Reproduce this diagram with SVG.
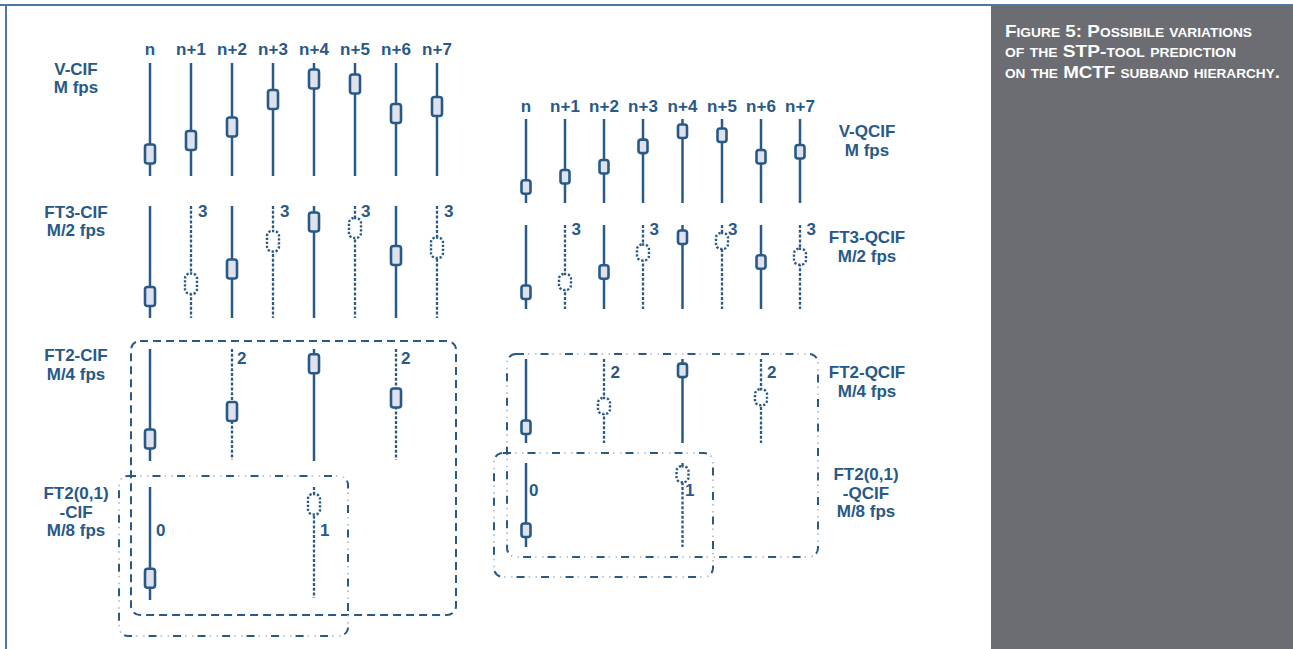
<svg xmlns="http://www.w3.org/2000/svg" width="1293" height="649" viewBox="0 0 1293 649">
<defs>
<style>
.ln{stroke:#285987;stroke-width:2.5;fill:none}
.dl{stroke:#285987;stroke-width:2.3;fill:none;stroke-dasharray:3 1.8}
.bx{fill:#dfe2ec;stroke:#285987;stroke-width:2.6}
.gh{fill:#fff;stroke:#285987;stroke-width:2.4;stroke-dasharray:2.2 1.8}
.t{font-family:"Liberation Sans",Arial,sans-serif;font-weight:bold;font-size:17px;fill:#285987}
.lb{text-anchor:middle}
.hd{text-anchor:middle;font-size:17px}
.nm{font-size:17px}
.dsh{fill:none;stroke:#285987;stroke-width:2;stroke-dasharray:8 5}
.dd1{fill:none;stroke:#285987;stroke-width:2;stroke-dasharray:8 16.5}
.dd2{fill:none;stroke:#a7b6c6;stroke-width:1.6;stroke-dasharray:1.5 5.5 1.5 16;stroke-dashoffset:12.5}
.cap{font-family:"Liberation Sans",Arial,sans-serif;font-weight:bold;font-size:16.5px;fill:#fff;font-variant:small-caps}
</style>
</defs>
<rect x="0" y="0" width="1293" height="649" fill="#fff"/>
<rect x="991" y="6" width="302" height="643" fill="#6c6d72"/>
<line x1="0" y1="5" x2="1293" y2="5" stroke="#4c78a3" stroke-width="2"/>
<line x1="6" y1="5" x2="6" y2="649" stroke="#4c78a3" stroke-width="2"/>
<g id="caption">
<text class="cap" x="1005" y="37" textLength="247" lengthAdjust="spacingAndGlyphs">Figure 5: Possibile variations</text>
<text class="cap" x="1005" y="57" textLength="231" lengthAdjust="spacingAndGlyphs">of the STP-tool prediction</text>
<text class="cap" x="1005" y="78" textLength="275" lengthAdjust="spacingAndGlyphs">on the MCTF subband hierarchy.</text>
</g>
<g id="connectors">
<rect class="dsh" x="131" y="341" width="325" height="274" rx="9"/>
<rect class="dd1" x="119" y="476" width="229" height="160" rx="9"/>
<rect class="dd2" x="119" y="476" width="229" height="160" rx="9"/>
<rect class="dd1" x="507" y="354" width="311" height="203" rx="9"/>
<rect class="dd2" x="507" y="354" width="311" height="203" rx="9"/>
<rect class="dd1" x="494" y="453" width="219" height="124" rx="9"/>
<rect class="dd2" x="494" y="453" width="219" height="124" rx="9"/>
</g>
<g id="headers-cif">
<text class="t hd" x="150" y="55">n</text>
<text class="t hd" x="191" y="55">n+1</text>
<text class="t hd" x="232" y="55">n+2</text>
<text class="t hd" x="273" y="55">n+3</text>
<text class="t hd" x="314" y="55">n+4</text>
<text class="t hd" x="355" y="55">n+5</text>
<text class="t hd" x="396" y="55">n+6</text>
<text class="t hd" x="437" y="55">n+7</text>
</g>
<g id="headers-qcif">
<text class="t hd" x="526" y="112">n</text>
<text class="t hd" x="565" y="112">n+1</text>
<text class="t hd" x="604" y="112">n+2</text>
<text class="t hd" x="643" y="112">n+3</text>
<text class="t hd" x="682.5" y="112">n+4</text>
<text class="t hd" x="722" y="112">n+5</text>
<text class="t hd" x="761" y="112">n+6</text>
<text class="t hd" x="800" y="112">n+7</text>
</g>
<g id="v-cif">
<text class="t lb" x="76" y="75">V-CIF</text>
<text class="t lb" x="76" y="93">M fps</text>
<line class="ln" x1="150" y1="63" x2="150" y2="176"/><rect class="bx" x="145" y="144.5" width="10" height="19" rx="2.5"/>
<line class="ln" x1="191" y1="63" x2="191" y2="176"/><rect class="bx" x="186" y="131" width="10" height="19" rx="2.5"/>
<line class="ln" x1="232" y1="63" x2="232" y2="176"/><rect class="bx" x="227" y="117.5" width="10" height="19" rx="2.5"/>
<line class="ln" x1="273" y1="63" x2="273" y2="176"/><rect class="bx" x="268" y="90" width="10" height="19" rx="2.5"/>
<line class="ln" x1="314" y1="63" x2="314" y2="176"/><rect class="bx" x="309" y="69.5" width="10" height="19" rx="2.5"/>
<line class="ln" x1="355" y1="63" x2="355" y2="176"/><rect class="bx" x="350" y="74.5" width="10" height="19" rx="2.5"/>
<line class="ln" x1="396" y1="63" x2="396" y2="176"/><rect class="bx" x="391" y="104" width="10" height="19" rx="2.5"/>
<line class="ln" x1="437" y1="63" x2="437" y2="176"/><rect class="bx" x="432" y="97" width="10" height="19" rx="2.5"/>
</g>
<g id="ft3-cif">
<text class="t lb" x="76" y="218">FT3-CIF</text>
<text class="t lb" x="76" y="236">M/2 fps</text>
<line class="ln" x1="150" y1="206" x2="150" y2="318"/><rect class="bx" x="145" y="287" width="10" height="19" rx="2.5"/>
<line class="dl" x1="191" y1="206" x2="191" y2="318"/><rect class="gh" x="185" y="273.5" width="12" height="20.5" rx="5"/>
<line class="ln" x1="232" y1="206" x2="232" y2="318"/><rect class="bx" x="227" y="259.5" width="10" height="19" rx="2.5"/>
<line class="dl" x1="273" y1="206" x2="273" y2="318"/><rect class="gh" x="267" y="231" width="12" height="20.5" rx="5"/>
<line class="ln" x1="314" y1="206" x2="314" y2="318"/><rect class="bx" x="309" y="212.5" width="10" height="19" rx="2.5"/>
<line class="dl" x1="355" y1="206" x2="355" y2="318"/><rect class="gh" x="349" y="218" width="12" height="20" rx="5"/>
<line class="ln" x1="396" y1="206" x2="396" y2="318"/><rect class="bx" x="391" y="246" width="10" height="19" rx="2.5"/>
<line class="dl" x1="437" y1="206" x2="437" y2="318"/><rect class="gh" x="431" y="237.5" width="12" height="20.5" rx="5"/>
<text class="t nm" x="198" y="217">3</text>
<text class="t nm" x="280" y="217">3</text>
<text class="t nm" x="361" y="217">3</text>
<text class="t nm" x="444" y="217">3</text>
</g>
<g id="ft2-cif">
<text class="t lb" x="76" y="361">FT2-CIF</text>
<text class="t lb" x="76" y="379.5">M/4 fps</text>
<line class="ln" x1="150" y1="349" x2="150" y2="461"/><rect class="bx" x="145" y="429.5" width="10" height="19" rx="2.5"/>
<line class="dl" x1="232" y1="349" x2="232" y2="460"/><rect class="bx" x="227" y="402" width="10" height="19" rx="2.5"/>
<line class="ln" x1="314" y1="349" x2="314" y2="461"/><rect class="bx" x="309" y="354.3" width="10" height="19" rx="2.5"/>
<line class="dl" x1="396" y1="349" x2="396" y2="460"/><rect class="bx" x="391" y="388.5" width="10" height="19" rx="2.5"/>
<text class="t nm" x="237" y="364">2</text>
<text class="t nm" x="401" y="364">2</text>
</g>
<g id="ft201-cif">
<text class="t lb" x="76" y="499">FT2(0,1)</text>
<text class="t lb" x="76" y="517.5">-CIF</text>
<text class="t lb" x="76" y="536">M/8 fps</text>
<line class="ln" x1="150" y1="487" x2="150" y2="600"/><rect class="bx" x="145" y="568.7" width="10" height="19" rx="2.5"/>
<line class="dl" x1="314" y1="487" x2="314" y2="598"/><rect class="gh" x="308" y="494" width="12" height="20.5" rx="5"/>
<text class="t nm" x="156" y="536">0</text>
<text class="t nm" x="320" y="536">1</text>
</g>
<g id="v-qcif">
<text class="t lb" x="867" y="137">V-QCIF</text>
<text class="t lb" x="867" y="155.5">M fps</text>
<line class="ln" x1="526" y1="119" x2="526" y2="203"/><rect class="bx" x="521.5" y="180.3" width="9" height="13.5" rx="2.5"/>
<line class="ln" x1="565" y1="119" x2="565" y2="203"/><rect class="bx" x="560.5" y="170" width="9" height="13.5" rx="2.5"/>
<line class="ln" x1="604" y1="119" x2="604" y2="203"/><rect class="bx" x="599.5" y="160" width="9" height="13.5" rx="2.5"/>
<line class="ln" x1="643" y1="119" x2="643" y2="203"/><rect class="bx" x="638.5" y="139.6" width="9" height="13.5" rx="2.5"/>
<line class="ln" x1="682.5" y1="119" x2="682.5" y2="203"/><rect class="bx" x="678" y="124.5" width="9" height="13.5" rx="2.5"/>
<line class="ln" x1="722" y1="119" x2="722" y2="203"/><rect class="bx" x="717.5" y="128.5" width="9" height="13.5" rx="2.5"/>
<line class="ln" x1="761" y1="119" x2="761" y2="203"/><rect class="bx" x="756.5" y="150" width="9" height="13.5" rx="2.5"/>
<line class="ln" x1="800" y1="119" x2="800" y2="203"/><rect class="bx" x="795.5" y="145" width="9" height="13.5" rx="2.5"/>
</g>
<g id="ft3-qcif">
<text class="t lb" x="867" y="243">FT3-QCIF</text>
<text class="t lb" x="867" y="261.5">M/2 fps</text>
<line class="ln" x1="526" y1="225" x2="526" y2="309"/><rect class="bx" x="521.5" y="285.5" width="9" height="13.5" rx="2.5"/>
<line class="dl" x1="565" y1="225" x2="565" y2="309"/><rect class="gh" x="559" y="274" width="12" height="16" rx="5"/>
<line class="ln" x1="604" y1="225" x2="604" y2="309"/><rect class="bx" x="599.5" y="265.3" width="9" height="13.5" rx="2.5"/>
<line class="dl" x1="643" y1="225" x2="643" y2="309"/><rect class="gh" x="637" y="244.5" width="12" height="16" rx="5"/>
<line class="ln" x1="682.5" y1="225" x2="682.5" y2="309"/><rect class="bx" x="678" y="230.5" width="9" height="13.5" rx="2.5"/>
<line class="dl" x1="722" y1="225" x2="722" y2="309"/><rect class="gh" x="716" y="233" width="12" height="16" rx="5"/>
<line class="ln" x1="761" y1="225" x2="761" y2="309"/><rect class="bx" x="756.5" y="255.3" width="9" height="13.5" rx="2.5"/>
<line class="dl" x1="800" y1="225" x2="800" y2="309"/><rect class="gh" x="794" y="248.7" width="12" height="16" rx="5"/>
<text class="t nm" x="571.5" y="235">3</text>
<text class="t nm" x="649.5" y="235">3</text>
<text class="t nm" x="728" y="235">3</text>
<text class="t nm" x="806.5" y="235">3</text>
</g>
<g id="ft2-qcif">
<text class="t lb" x="867" y="378">FT2-QCIF</text>
<text class="t lb" x="867" y="396.5">M/4 fps</text>
<line class="ln" x1="526" y1="359" x2="526" y2="443"/><rect class="bx" x="521.5" y="420.5" width="9" height="13.5" rx="2.5"/>
<line class="dl" x1="604" y1="359" x2="604" y2="443"/><rect class="gh" x="598" y="398" width="12" height="16" rx="5"/>
<line class="ln" x1="682.5" y1="359" x2="682.5" y2="443"/><rect class="bx" x="678" y="363.6" width="9" height="13.5" rx="2.5"/>
<line class="dl" x1="761" y1="359" x2="761" y2="443"/><rect class="gh" x="755" y="389.3" width="12" height="16" rx="5"/>
<text class="t nm" x="610.5" y="378">2</text>
<text class="t nm" x="767" y="378">2</text>
</g>
<g id="ft201-qcif">
<text class="t lb" x="866" y="480">FT2(0,1)</text>
<text class="t lb" x="866" y="498.5">-QCIF</text>
<text class="t lb" x="866" y="517">M/8 fps</text>
<line class="ln" x1="526" y1="463" x2="526" y2="547"/><rect class="bx" x="521.5" y="523.5" width="9" height="13.5" rx="2.5"/>
<line class="dl" x1="682.5" y1="463" x2="682.5" y2="547"/><rect class="gh" x="676.5" y="466.2" width="12" height="16" rx="5"/>
<text class="t nm" x="529" y="496">0</text>
<text class="t nm" x="685" y="496">1</text>
</g>
</svg>
